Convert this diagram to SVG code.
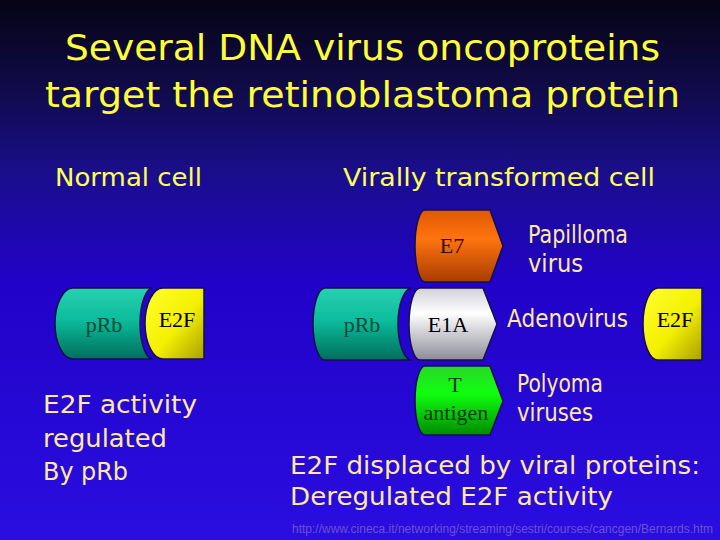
<svg xmlns="http://www.w3.org/2000/svg" width="720" height="540" viewBox="0 0 720 540">
<defs>
<linearGradient id="bg" x1="0" y1="0" x2="0" y2="1">
<stop offset="0" stop-color="#060414"/>
<stop offset="0.15" stop-color="#0f0a44"/>
<stop offset="0.32" stop-color="#1a0e8c"/>
<stop offset="0.52" stop-color="#2102c8"/>
<stop offset="1" stop-color="#2a0ee0"/>
</linearGradient>
<linearGradient id="teal" x1="0" y1="0" x2="0" y2="1">
<stop offset="0" stop-color="#28d0b0"/>
<stop offset="0.45" stop-color="#0cbc9c"/>
<stop offset="1" stop-color="#006e5c"/>
</linearGradient>
<linearGradient id="yellow" x1="0" y1="0" x2="1" y2="1">
<stop offset="0" stop-color="#ffff30"/>
<stop offset="0.55" stop-color="#f4f000"/>
<stop offset="1" stop-color="#a8a000"/>
</linearGradient>
<linearGradient id="orange" x1="0" y1="0" x2="0" y2="1">
<stop offset="0" stop-color="#e05800"/>
<stop offset="0.4" stop-color="#ff7410"/>
<stop offset="1" stop-color="#a83c00"/>
</linearGradient>
<linearGradient id="white" x1="0" y1="0" x2="0" y2="1">
<stop offset="0" stop-color="#d0d0d8"/>
<stop offset="0.35" stop-color="#ffffff"/>
<stop offset="1" stop-color="#8c8c98"/>
</linearGradient>
<linearGradient id="green" x1="0" y1="0" x2="0" y2="1">
<stop offset="0" stop-color="#28d828"/>
<stop offset="0.4" stop-color="#10ff10"/>
<stop offset="1" stop-color="#008a00"/>
</linearGradient>
<style>
.shape{stroke:#14104a;stroke-width:1.5}
.title{font-family:"DejaVu Sans","Liberation Sans",sans-serif;font-size:36px;fill:#ffff38}
.head{font-family:"DejaVu Sans","Liberation Sans",sans-serif;font-size:25px;fill:#ffff55}
.body{font-family:"DejaVu Sans","Liberation Sans",sans-serif;font-size:24px;fill:#ffe9a0}
.lbl{font-family:"Liberation Serif","DejaVu Serif",serif;font-size:22px}
.url{font-family:"Liberation Sans",sans-serif;font-size:12px;fill:#6a52d0}
</style>
</defs>
<rect x="0" y="0" width="720" height="540" fill="url(#bg)"/>

<g id="title">
<text class="title" x="65" y="60" textLength="595" lengthAdjust="spacingAndGlyphs">Several DNA virus oncoproteins</text>
<text class="title" x="45" y="107" textLength="635" lengthAdjust="spacingAndGlyphs">target the retinoblastoma protein</text>
</g>

<g id="headings">
<text class="head" x="55" y="186" textLength="147" lengthAdjust="spacingAndGlyphs">Normal cell</text>
<text class="head" x="343" y="186" textLength="312" lengthAdjust="spacingAndGlyphs">Virally transformed cell</text>
</g>

<g id="normal-prb">
<path class="shape" fill="url(#teal)" d="M73,288 L153,288 A13,35.5 0 0 0 153,359 L73,359 A18,35.5 0 0 1 73,288 Z"/>
<text class="lbl" x="104" y="332" text-anchor="middle" fill="#004a38">pRb</text>
</g>
<g id="normal-e2f">
<path class="shape" fill="url(#yellow)" d="M163,288 L204,288 L204,359 L163,359 A18,35.5 0 0 1 163,288 Z"/>
<text class="lbl" x="177" y="327" text-anchor="middle" fill="#000000">E2F</text>
</g>

<g id="normal-text">
<text class="body" x="43" y="413" textLength="154" lengthAdjust="spacingAndGlyphs">E2F activity</text>
<text class="body" x="43" y="447" textLength="124" lengthAdjust="spacingAndGlyphs">regulated</text>
<text class="body" x="43" y="480" textLength="85" lengthAdjust="spacingAndGlyphs">By pRb</text>
</g>

<g id="e7">
<path class="shape" fill="url(#orange)" d="M425,210 L490,210 L503,246 L490,282 L425,282 A10,36 0 0 1 425,210 Z"/>
<text class="lbl" x="452" y="253" text-anchor="middle" fill="#3a0c00">E7</text>
</g>
<g id="papilloma">
<text class="body" x="528" y="243" textLength="100" lengthAdjust="spacingAndGlyphs">Papilloma</text>
<text class="body" x="528" y="272" textLength="55" lengthAdjust="spacingAndGlyphs">virus</text>
</g>

<g id="viral-prb">
<path class="shape" fill="url(#teal)" d="M325,288 L412,288 A14,36 0 0 0 412,360 L325,360 A12,36 0 0 1 325,288 Z"/>
<text class="lbl" x="362" y="332" text-anchor="middle" fill="#004a38">pRb</text>
</g>
<g id="e1a">
<path class="shape" fill="url(#white)" d="M420,288 L483,288 L497,324 L483,360 L420,360 A11,36 0 0 1 420,288 Z"/>
<text class="lbl" x="448" y="332" text-anchor="middle" fill="#000000">E1A</text>
</g>
<g id="adenovirus">
<text class="body" x="507" y="327" textLength="121" lengthAdjust="spacingAndGlyphs">Adenovirus</text>
</g>
<g id="viral-e2f">
<path class="shape" fill="url(#yellow)" d="M658,288 L702,288 L702,360 L658,360 A15,36 0 0 1 658,288 Z"/>
<text class="lbl" x="675" y="327" text-anchor="middle" fill="#000000">E2F</text>
</g>

<g id="t-antigen">
<path class="shape" fill="url(#green)" d="M425,366 L490,366 L503,401 L490,435 L425,435 A10,34.5 0 0 1 425,366 Z"/>
<text class="lbl" x="455" y="392" text-anchor="middle" fill="#003a00">T</text>
<text class="lbl" x="456" y="420" text-anchor="middle" fill="#003a00">antigen</text>
</g>
<g id="polyoma">
<text class="body" x="517" y="392" textLength="86" lengthAdjust="spacingAndGlyphs">Polyoma</text>
<text class="body" x="517" y="421" textLength="76" lengthAdjust="spacingAndGlyphs">viruses</text>
</g>

<g id="viral-text">
<text class="body" x="290" y="474" textLength="410" lengthAdjust="spacingAndGlyphs">E2F displaced by viral proteins:</text>
<text class="body" x="290" y="505" textLength="323" lengthAdjust="spacingAndGlyphs">Deregulated E2F activity</text>
</g>

<g id="connectors"/>

<text class="url" x="292" y="533" textLength="421" lengthAdjust="spacingAndGlyphs">http://www.cineca.it/networking/streaming/sestri/courses/cancgen/Bernards.htm</text>
</svg>
